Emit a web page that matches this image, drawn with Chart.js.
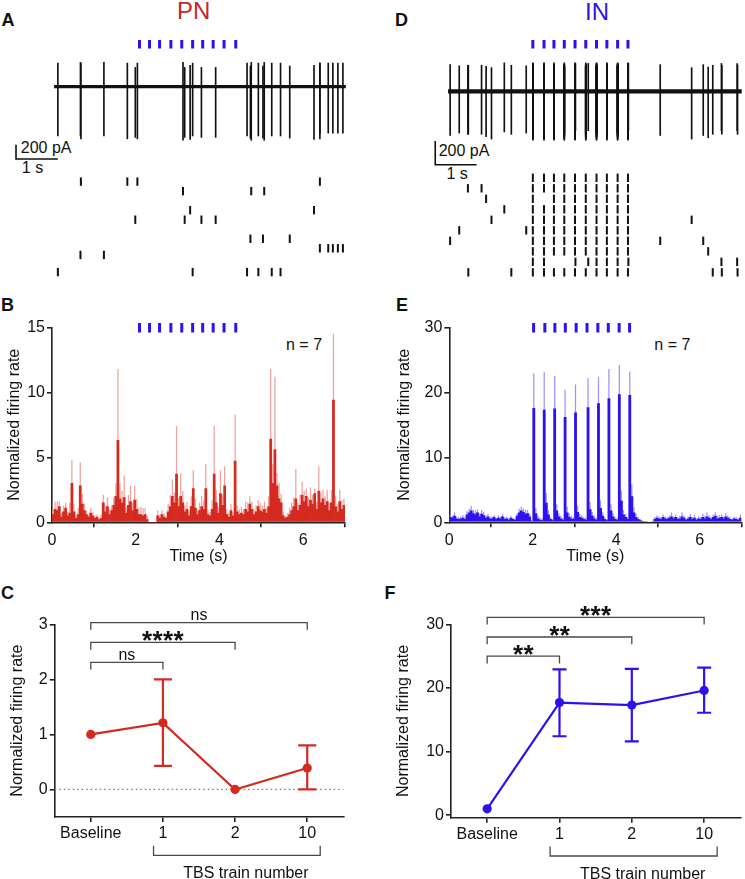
<!DOCTYPE html>
<html>
<head>
<meta charset="utf-8">
<script src="https://cdn.jsdelivr.net/npm/chart.js@4.4.1/dist/chart.umd.min.js"></script>
<style>
body{margin:0;background:#fff;width:745px;height:879px;position:relative;overflow:hidden;font-family:"Liberation Sans",Arial,sans-serif;color:#111}
canvas{position:absolute}
.t{position:absolute;white-space:nowrap;line-height:1;font-size:16px}
.lt{font-weight:bold;font-size:18px}
.ttl{font-size:24px;transform:translateX(-50%)}
</style>
</head>
<body>
<div class="t lt" style="left:1.5px;top:11.2px">A</div>
<div class="t lt" style="left:395px;top:10.9px">D</div>
<div class="t lt" style="left:1px;top:296.2px">B</div>
<div class="t lt" style="left:396px;top:295.7px">E</div>
<div class="t lt" style="left:1px;top:584.2px">C</div>
<div class="t lt" style="left:384.5px;top:584.2px">F</div>
<div class="t ttl" style="left:193.7px;top:-0.9px;color:#c4262e">PN</div>
<div class="t ttl" style="left:597px;top:0px;color:#2d12f0">IN</div>
<div class="t" style="left:20.8px;top:140.2px">200 pA</div>
<div class="t" style="left:21.8px;top:160.2px">1 s</div>
<div class="t" style="left:438.7px;top:143.4px">200 pA</div>
<div class="t" style="left:446.5px;top:166.2px">1 s</div>
<div class="t" style="left:286px;top:337.2px">n = 7</div>
<div class="t" style="left:654.3px;top:337.2px">n = 7</div>

<canvas id="cA" width="360" height="260" style="left:0;top:30px"></canvas>
<canvas id="cD" width="373" height="260" style="left:372px;top:30px"></canvas>
<canvas id="cB" width="360" height="270" style="left:0;top:300px"></canvas>
<canvas id="cE" width="373" height="270" style="left:372px;top:300px"></canvas>
<canvas id="cC" width="360" height="279" style="left:0;top:600px"></canvas>
<canvas id="cF" width="373" height="279" style="left:372px;top:600px"></canvas>

<script>
// ---- data ----
const stimPN = [2.09, 2.33, 2.57, 2.84, 3.10, 3.36, 3.60, 3.85, 4.11, 4.39];
const stimIN = [2.02, 2.29, 2.53, 2.78, 3.04, 3.30, 3.56, 3.81, 4.07, 4.32];

// raster rows (trial) and spike times (s)
const rowsPN = [1, 2, 4, 5, 7, 8, 8.7, 10.5];
const spikesPN = [
  [0.69, 1.80, 2.04, 6.40],
  [3.13, 4.76, 5.07],
  [3.30, 6.26],
  [1.99, 3.17, 3.57, 3.91],
  [4.74, 5.04, 5.68],
  [6.40, 6.60, 6.71, 6.83, 6.95],
  [0.68, 1.24],
  [0.14, 3.36, 4.66, 4.93, 5.25, 5.46]
];
const spikeUpPN = [330, 340, 300, 270, 290, 330, 340, 330];       // pA
const spikeDownPN = [-730, -750, -740, -710, -720, -650, -690, -690];

const rowsIN = [1, 2, 3, 4, 5, 6, 7, 8, 9, 10];
const spikesIN = [
  [2.02, 2.29, 2.53, 2.78, 3.04, 3.30, 3.56, 3.81, 4.07, 4.32],
  [0.45, 0.78, 2.02, 2.29, 2.53, 2.78, 3.04, 3.30, 3.56, 3.81, 4.07, 4.32],
  [0.89, 2.02, 2.53, 2.78, 3.04, 3.30, 3.56, 3.81, 4.07, 4.32],
  [1.33, 2.02, 2.29, 2.53, 2.78, 3.04, 3.30, 3.56, 3.81, 4.07, 4.32],
  [1.02, 2.02, 2.29, 2.53, 2.78, 3.04, 3.30, 3.56, 3.81, 4.07, 4.32, 5.86],
  [0.24, 1.86, 2.02, 2.29, 2.53, 2.78, 3.04, 3.30, 3.56, 3.81, 4.07, 4.32],
  [0.02, 2.02, 2.29, 2.53, 2.78, 3.04, 3.30, 3.56, 3.81, 4.07, 4.32, 5.10, 6.14],
  [2.02, 2.29, 2.53, 2.78, 3.04, 3.30, 3.56, 3.81, 4.07, 4.32, 6.26],
  [2.02, 2.29, 3.05, 3.36, 3.56, 3.81, 4.07, 4.33, 6.58, 6.96],
  [0.46, 1.50, 2.02, 2.29, 2.53, 2.78, 3.04, 3.30, 3.56, 3.81, 4.07, 4.32, 6.37, 6.59, 6.97]
];
const spikeUpIN = [230, 220, 210, 240, 200, 215, 225, 205, 235, 220];
const spikeDownIN = [-410, -360, -380, -340, -400, -350, -370, -390, -330, -360];

// PSTH, 50 ms bins, 0-7 s
const binWidth = 0.05;
const ratePN = [
  0.6, 1.0, 0.9, 1.2, 0.4, 0.8, 1.1, 0.5, 0.7, 3.0,
  0.8, 0.3, 0.6, 2.8, 1.4, 0.9, 0.6, 0.4, 0.7, 0.5,
  0.3, 0.4, 0.2, 0.3, 1.5, 0.8, 1.2, 0.6, 0.9, 1.3,
  2.0, 6.3, 1.8, 1.5, 1.9, 0.7, 1.3, 1.6, 0.9, 1.7,
  1.0, 0.6, 0.6, 0.5, 0.6, 0.2, 0, 0, 0, 0,
  0.5, 0.3, 0.6, 0.4, 0.3, 0.8, 1.2, 2.0, 1.5, 3.7,
  1.2, 2.0, 1.5, 0.8, 1.0, 0.5, 1.2, 2.6, 1.1, 0.6,
  0.9, 1.2, 1.0, 2.6, 0.6, 0.5, 1.0, 3.7, 1.5, 0.7,
  2.2, 1.3, 2.8, 0.6, 0.4, 0.9, 0.5, 4.7, 0.8, 0.6,
  0.7, 0.6, 1.0, 0.8, 1.4, 1.0, 0.6, 0.8, 1.2, 0.9,
  0.8, 1.0, 0.7, 1.2, 6.4, 3.0, 5.6, 2.8, 1.8, 1.5,
  0.5, 0.3, 0.4, 0.6, 0.9, 1.2, 1.8, 0.9, 1.3, 2.1,
  1.6, 2.0, 1.2, 1.7, 1.4, 2.2, 1.0, 2.4, 1.5, 1.8,
  1.3, 1.6, 0.9, 1.5, 9.4, 1.2, 0.8, 1.6, 1.0, 1.3
];
const semPN = [
  0.4, 0.6, 0.7, 0.4, 0.3, 0.5, 0.4, 0.3, 0.8, 1.8,
  0.6, 0.2, 0.5, 1.8, 0.8, 0.5, 0.3, 0.2, 0.4, 0.3,
  0.2, 0.2, 0.1, 0.3, 0.6, 0.5, 0.7, 0.4, 0.4, 0.6,
  1.0, 5.5, 1.2, 0.9, 1.7, 0.5, 0.8, 1.2, 0.6, 1.1,
  0.8, 0.5, 0.6, 0.6, 0.5, 0.3, 0, 0, 0, 0,
  0.4, 0.3, 0.3, 0.3, 0.2, 0.6, 0.9, 1.3, 0.8, 3.7,
  0.7, 1.8, 0.9, 0.5, 0.6, 0.4, 0.8, 1.4, 0.7, 0.4,
  0.6, 0.8, 0.7, 1.9, 0.4, 0.3, 0.7, 3.7, 1.0, 0.5,
  1.8, 0.8, 1.5, 0.4, 0.3, 0.5, 0.3, 3.6, 0.5, 0.4,
  0.5, 0.4, 0.6, 0.7, 0.6, 0.6, 0.4, 0.5, 0.5, 0.6,
  0.5, 0.6, 0.4, 0.8, 5.4, 1.5, 5.6, 1.0, 1.2, 0.7,
  0.3, 0.2, 0.3, 0.5, 0.6, 0.7, 2.3, 0.6, 0.8, 1.0,
  0.8, 0.6, 0.7, 1.0, 0.7, 0.4, 0.6, 1.9, 0.8, 0.7,
  0.7, 0.9, 0.6, 1.0, 5.1, 0.8, 0.6, 0.9, 0.7, 0.5
];
const rateIN = [
  0.8, 0.7, 1.0, 0.6, 0.5, 0.6, 0.7, 0.5, 1.2, 1.5,
  1.8, 1.4, 1.2, 1.5, 0.9, 1.3, 1.1, 0.7, 0.9, 0.6,
  0.6, 0.8, 0.5, 0.7, 0.6, 0.9, 0.5, 0.6, 0.4, 0.7,
  0.5, 0.4, 1.0, 1.5, 1.8, 1.6, 1.3, 1.4, 0.9, 0.2,
  17.6, 1.4, 0.6, 0.4, 0.3, 17.3, 3.0, 1.2, 0.5, 0.3,
  17.5, 1.8, 0.9, 0.6, 0.4, 16.2, 1.5, 0.8, 0.6, 0.5,
  16.9, 1.6, 0.8, 0.7, 0.5, 0.4, 17.7, 2.0, 1.0, 0.6,
  0.4, 18.3, 2.2, 1.0, 0.5, 0.3, 19.1, 1.8, 0.9, 0.5,
  0.4, 19.7, 3.3, 1.2, 0.8, 0.5, 19.6, 4.0, 1.5, 0.8,
  0.5, 0.3, 0.2, 0.1, 0.1, 0, 0, 0.1, 0.5, 0.7,
  0.6, 0.5, 0.8, 0.6, 0.5, 0.7, 0.9, 0.6, 0.8, 0.5,
  0.6, 0.9, 0.7, 0.4, 0.6, 0.8, 0.5, 0.7, 0.4, 0.6,
  0.5, 0.8, 0.6, 0.9, 0.7, 0.5, 0.8, 1.0, 0.6, 0.7,
  0.8, 0.6, 0.9, 0.7, 0.5, 0.4, 0.6, 0.5, 0.4, 0.7
];
const semIN = [
  0.4, 0.3, 0.5, 0.3, 0.3, 0.3, 0.4, 0.3, 0.5, 0.6,
  0.7, 0.5, 0.6, 0.5, 0.4, 0.6, 0.5, 0.3, 0.4, 0.3,
  0.3, 0.3, 0.2, 0.4, 0.3, 0.4, 0.3, 0.3, 0.2, 0.3,
  0.2, 0.2, 0.4, 0.6, 0.6, 0.5, 0.6, 0.5, 0.4, 0.2,
  5.3, 0.8, 0.4, 0.3, 0.3, 5.8, 1.5, 0.7, 0.3, 0.2,
  5.0, 1.0, 0.5, 0.4, 0.3, 4.2, 0.9, 0.5, 0.4, 0.3,
  4.3, 1.0, 0.5, 0.4, 0.3, 0.3, 4.5, 1.1, 0.6, 0.4,
  0.3, 4.1, 1.2, 0.6, 0.3, 0.2, 4.5, 1.0, 0.5, 0.3,
  0.3, 4.5, 1.6, 0.7, 0.5, 0.3, 3.6, 1.8, 0.8, 0.5,
  0.3, 0.2, 0.1, 0.1, 0.1, 0, 0, 0.1, 0.3, 0.4,
  0.3, 0.3, 0.4, 0.3, 0.3, 0.4, 0.6, 0.3, 0.4, 0.3,
  0.4, 0.6, 0.4, 0.2, 0.3, 0.5, 0.3, 0.4, 0.2, 0.3,
  0.3, 0.5, 0.4, 0.6, 0.4, 0.3, 0.4, 0.5, 0.4, 0.4,
  0.4, 0.3, 0.5, 0.4, 0.3, 0.2, 0.3, 0.3, 0.2, 0.5
];

// summary (C, F)
const groups = ['Baseline', '1', '2', '10'];
const pnMean = [1.0, 1.21, 0.0, 0.39];
const pnLow = [1.0, 0.43, 0.0, 0.0];
const pnHigh = [1.0, 2.0, 0.0, 0.80];
const inMean = [1.0, 17.7, 17.3, 19.6];
const inLow = [1.0, 12.4, 11.6, 16.1];
const inHigh = [1.0, 22.9, 23.0, 23.2];
const sigTo = [1, 2, 3];
const sigPN = ['ns', '****', 'ns'];
const sigIN = ['**', '**', '***'];
const sigLevelPN = [2.31, 2.67, 3.03];
const sigLevelIN = [25.0, 28.0, 31.1];
const tbsSpan = [0.87, 3.18];

// ---- styling ----
const RED = '#d42a1f', RED_LT = '#eda39c', BLUE = '#2d12f0', BLUE_LT = '#9d93f8', INK = '#111', AX = '#222';
const FONT = '"Liberation Sans", Arial, sans-serif';
Chart.defaults.font.family = FONT;
Chart.defaults.font.size = 16;
Chart.defaults.color = INK;
Chart.defaults.animation = false;
Chart.defaults.events = [];
Chart.defaults.plugins.legend.display = false;
Chart.defaults.plugins.tooltip.enabled = false;

function stimMarks(times, top, h) {
  return {
    id: 'stim',
    afterDatasetsDraw(chart) {
      const ctx = chart.ctx, x = chart.scales.x;
      ctx.save();
      ctx.fillStyle = BLUE;
      times.forEach(t => ctx.fillRect(x.getPixelForValue(t) - 1.5, top, 3, h));
      ctx.restore();
    }
  };
}

const fixTicks = vals => s => { s.ticks = vals.map(v => ({value: v})); };

// ---- A / D: trace + raster ----
function topPanel(id, o) {
  const spikes = [], dots = [];
  o.times.forEach((ts, r) => ts.forEach(t => {
    spikes.push({x: t, y: [o.down[r], o.up[r]]});
    dots.push({x: t, y: o.rows[r]});
  }));
  const sb = o.scaleBar;
  new Chart(document.getElementById(id), {
    type: 'bar',
    data: {datasets: [
      {type: 'bar', data: spikes, backgroundColor: INK, barThickness: 1, grouped: false, clip: false, yAxisID: 'yTr'},
      {type: 'line', data: [{x: o.span[0], y: 0}, {x: o.span[1], y: 0}], borderColor: INK, borderWidth: o.lw,
        pointRadius: 0, clip: false, yAxisID: 'yTr'},
      // scale bar: 1 s x 200 pA (listed right-to-left so every point is kept)
      {type: 'line', data: [{x: sb.t + 1, y: sb.v}, {x: sb.t, y: sb.v}, {x: sb.t, y: sb.v + 200}],
        borderColor: INK, borderWidth: 1.6, pointRadius: 0, clip: false, yAxisID: 'yTr'},
      {type: 'line', data: dots, showLine: false, pointStyle: 'line', pointRotation: 90, pointRadius: 4.2,
        pointBorderWidth: 2, pointBorderColor: INK, clip: false, yAxisID: 'yRas'}
    ]},
    options: {
      responsive: false,
      layout: {padding: {left: o.padL, right: o.padR, top: 0, bottom: 0}},
      scales: {
        x: {type: 'linear', min: 0, max: 7, offset: false, display: false},
        yTr: {type: 'linear', position: 'left', min: o.trMin, max: o.trMax, display: false},
        yRas: {type: 'linear', position: 'left', min: o.rasMin, max: o.rasMax, reverse: true, display: false}
      }
    },
    plugins: [stimMarks(o.stim, 10, 8.5)]
  });
}

topPanel('cA', {times: spikesPN, rows: rowsPN, up: spikeUpPN, down: spikeDownPN, stim: stimPN,
  span: [0.05, 7.02], lw: 3.2, scaleBar: {t: -0.86, v: -1013},
  padL: 52, padR: 15, trMin: -2760, trMax: 707, rasMin: -14.27, rasMax: 11.73});
topPanel('cD', {times: spikesIN, rows: rowsIN, up: spikeUpIN, down: spikeDownIN, stim: stimIN,
  span: [-0.03, 7.07], lw: 4.2, scaleBar: {t: -0.34, v: -616},
  padL: 77.3, padR: 3.6, trMin: -1616, trMax: 464, rasMin: -12.48, rasMax: 11.09});

// ---- B / E: PSTH ----
function axisStyle() {
  return {
    border: {display: true, color: AX, width: 1.6},
    grid: {display: true, drawOnChartArea: false, drawTicks: true, tickLength: 5, color: AX, lineWidth: 1.6}
  };
}

function histPanel(id, o) {
  const mean = o.rate.map((v, i) => ({x: (i + 0.5) * binWidth, y: v}));
  const top = o.rate.map((v, i) => ({x: (i + 0.5) * binWidth, y: v + o.sem[i]}));
  new Chart(document.getElementById(id), {
    type: 'bar',
    data: {datasets: [
      {data: mean, backgroundColor: o.color, grouped: false, barPercentage: o.barPct, categoryPercentage: 1, borderWidth: 0},
      {data: top, backgroundColor: o.light, grouped: false, barPercentage: 0.6, categoryPercentage: 1, borderWidth: 0}
    ]},
    options: {
      responsive: false,
      layout: {padding: {left: 0, top: 27.3, right: o.padR, bottom: 0}},
      scales: {
        x: Object.assign(axisStyle(), {
          type: 'linear', min: 0, max: 7, offset: false, z: 1,
          afterBuildTicks: fixTicks([0, 2, 4, 6]),
          afterFit: s => { s.height = 47.7; },
          ticks: {padding: 4, color: INK},
          title: {display: true, text: 'Time (s)', padding: {top: 0, bottom: 3.7}}
        }),
        y: Object.assign(axisStyle(), {
          min: 0, max: o.ymax,
          afterBuildTicks: fixTicks(o.yticks),
          afterFit: s => { s.width = o.yW; },
          ticks: {padding: 2, color: INK},
          title: {display: true, text: 'Normalized firing rate', padding: {top: o.tPad, bottom: 0}}
        })
      }
    },
    plugins: [stimMarks(o.stim, 23, 9.5)]
  });
}

histPanel('cB', {rate: ratePN, sem: semPN, color: RED, light: RED_LT, stim: stimPN, barPct: 1,
  ymax: 15, yticks: [0, 5, 10, 15], yW: 52, padR: 15, tPad: 5.4});
histPanel('cE', {rate: rateIN, sem: semIN, color: BLUE, light: BLUE_LT, stim: stimIN, barPct: 1.35,
  ymax: 30, yticks: [0, 10, 20, 30], yW: 77.3, padR: 3.6, tPad: 23.4});

// ---- C / F: summary ----
function sigLabel(ctx, txt, cx, yb) {
  ctx.textAlign = 'center';
  ctx.textBaseline = 'alphabetic';
  ctx.fillStyle = INK;
  if (txt.charAt(0) === '*') {
    ctx.font = 'bold 26px ' + FONT;
    const n = txt.length, gap = 10.5;
    for (let k = 0; k < n; k++) ctx.fillText('*', cx + (k - (n - 1) / 2) * gap, yb + 7);
  } else {
    ctx.font = '16px ' + FONT;
    ctx.fillText(txt, cx, yb - 2.5);
  }
}

function summaryExtras(o) {
  return {
    id: 'extras',
    beforeDatasetsDraw(chart) {
      const {ctx, chartArea, scales: {x, y}} = chart;
      ctx.save();
      if (o.zeroLine) {
        ctx.strokeStyle = '#777';
        ctx.lineWidth = 1.2;
        ctx.setLineDash([1.5, 3]);
        const yz = y.getPixelForValue(0);
        ctx.beginPath(); ctx.moveTo(chartArea.left, yz); ctx.lineTo(chartArea.right, yz); ctx.stroke();
        ctx.setLineDash([]);
      }
      ctx.strokeStyle = o.color;
      ctx.lineWidth = 2.2;
      o.low.forEach((lo, i) => {
        const hi = o.high[i];
        if (hi - lo <= 0) return;
        const px = x.getPixelForValue(i), p1 = y.getPixelForValue(lo), p2 = y.getPixelForValue(hi);
        ctx.beginPath();
        ctx.moveTo(px, p1); ctx.lineTo(px, p2);
        ctx.moveTo(px - o.cap, p1); ctx.lineTo(px + o.cap, p1);
        ctx.moveTo(px - o.cap, p2); ctx.lineTo(px + o.cap, p2);
        ctx.stroke();
      });
      ctx.restore();
    },
    afterDraw(chart) {
      const {ctx, chartArea, scales: {x, y}} = chart;
      ctx.save();
      ctx.strokeStyle = '#4a4a4a';
      ctx.lineWidth = 1.3;
      o.levels.forEach((lv, k) => {
        const x0 = x.getPixelForValue(0), x1 = x.getPixelForValue(sigTo[k]);
        const yb = y.getPixelForValue(lv), yl = y.getPixelForValue(lv - o.drop);
        ctx.beginPath();
        ctx.moveTo(x0, yl); ctx.lineTo(x0, yb); ctx.lineTo(x1, yb); ctx.lineTo(x1, yl);
        ctx.stroke();
        sigLabel(ctx, o.sig[k], (x0 + x1) / 2, yb);
      });
      const b = chartArea.bottom;
      const xa = x.getPixelForValue(tbsSpan[0]), xb = x.getPixelForValue(tbsSpan[1]);
      ctx.beginPath();
      ctx.moveTo(xa, b + 28.8); ctx.lineTo(xa, b + 38.3); ctx.lineTo(xb, b + 38.3); ctx.lineTo(xb, b + 28.8);
      ctx.stroke();
      ctx.fillStyle = INK;
      ctx.font = '16px ' + FONT;
      ctx.textAlign = 'center';
      ctx.textBaseline = 'alphabetic';
      ctx.fillText('TBS train number', x.getPixelForValue(2.15), b + 61);
      ctx.restore();
    }
  };
}

function summaryPanel(id, o) {
  new Chart(document.getElementById(id), {
    type: 'line',
    data: {datasets: [{
      data: o.mean.map((v, i) => ({x: i, y: v})),
      borderColor: o.color, borderWidth: 2.2, tension: 0,
      pointRadius: 4.6, pointBackgroundColor: o.color, pointBorderWidth: 0, clip: false
    }]},
    options: {
      responsive: false,
      layout: {padding: {left: 0, top: 24.3, right: o.padR, bottom: 0}},
      scales: {
        x: Object.assign(axisStyle(), {
          type: 'linear', min: -0.5, max: 3.5, offset: false,
          afterBuildTicks: fixTicks([0, 1, 2, 3]),
          afterFit: s => { s.height = o.xH; },
          ticks: {padding: 2, color: INK, callback: v => groups[v]}
        }),
        y: Object.assign(axisStyle(), {
          type: 'linear', min: o.ymin, max: o.ymax,
          afterBuildTicks: fixTicks(o.yticks),
          afterFit: s => { s.width = o.yW; },
          ticks: {padding: 2, color: INK},
          title: {display: true, text: 'Normalized firing rate', padding: {top: o.tPad, bottom: 0}}
        })
      }
    },
    plugins: [summaryExtras(o)]
  });
}

summaryPanel('cC', {mean: pnMean, low: pnLow, high: pnHigh, color: RED, cap: 9, zeroLine: true,
  levels: sigLevelPN, sig: sigPN, drop: 0.13,
  ymin: -0.5, ymax: 3, yticks: [0, 1, 2, 3], yW: 54.7, xH: 62, padR: 16.7, tPad: 8.4});
summaryPanel('cF', {mean: inMean, low: inLow, high: inHigh, color: BLUE, cap: 7, zeroLine: false,
  levels: sigLevelIN, sig: sigIN, drop: 1.15,
  ymin: -0.4, ymax: 30, yticks: [0, 10, 20, 30], yW: 79, xH: 61.3, padR: 4.7, tPad: 22.1});
</script>
</body>
</html>
